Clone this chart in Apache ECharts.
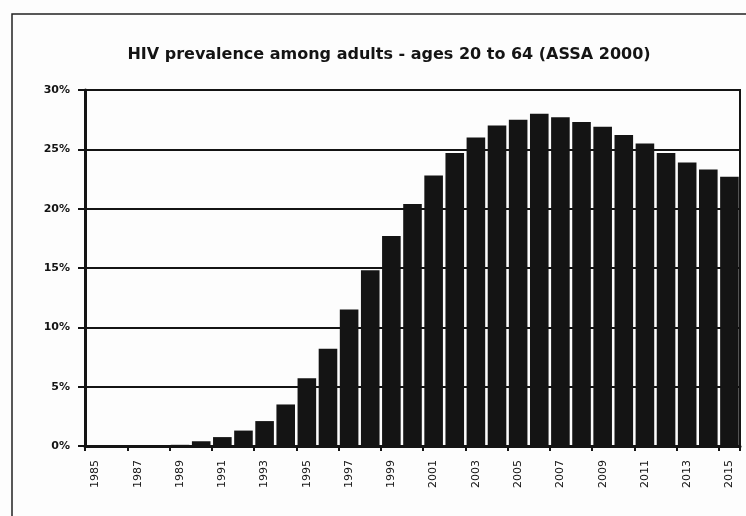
<!DOCTYPE html>
<html>
<head>
<meta charset="utf-8">
<script src="https://cdn.jsdelivr.net/npm/echarts@6/dist/echarts.min.js"></script>
<style>
  html, body { margin: 0; padding: 0; background: #fff; }
  #chart { width: 746px; height: 516px; }
</style>
</head>
<body>
<div id="chart"></div>
<script>
// Adult HIV prevalence (ages 20-64), ASSA 2000 model projections
const years = [
  '1985','1986','1987','1988','1989','1990','1991','1992','1993','1994',
  '1995','1996','1997','1998','1999','2000','2001','2002','2003','2004',
  '2005','2006','2007','2008','2009','2010','2011','2012','2013','2014','2015'
];
const prevalence = [
  0.0, 0.0, 0.0, 0.02, 0.1, 0.4, 0.75, 1.3, 2.1, 3.5,
  5.7, 8.2, 11.5, 14.8, 17.7, 20.4, 22.8, 24.7, 26.0, 27.0,
  27.5, 28.0, 27.7, 27.3, 26.9, 26.2, 25.5, 24.7, 23.9, 23.3, 22.7
];
const yTicks = [0, 5, 10, 15, 20, 25, 30];

const chart = echarts.init(document.getElementById('chart'));
const ink = '#141414';
const font = '"DejaVu Sans", "Liberation Sans", sans-serif';

chart.setOption({
  animation: false,
  backgroundColor: '#fdfdfd',
  title: {
    text: 'HIV prevalence among adults - ages 20 to 64 (ASSA 2000)',
    left: 384,
    top: 42,
    textAlign: 'center',
    textStyle: { fontFamily: font, fontSize: 16, fontWeight: 'bold', color: ink }
  },
  graphic: [{
    type: 'rect',
    shape: { x: 12, y: 14, width: 760, height: 530 },
    style: { fill: 'none', stroke: '#222', lineWidth: 1.5 },
    silent: true
  }],
  grid: {
    left: 85, right: 6, top: 90, bottom: 70,
    show: true, borderColor: ink, borderWidth: 2, backgroundColor: 'transparent'
  },
  xAxis: {
    type: 'category',
    data: years,
    boundaryGap: true,
    axisLine: { lineStyle: { color: ink, width: 3 } },
    axisTick: { show: true, alignWithLabel: false, length: 5, lineStyle: { color: ink, width: 2 } },
    axisLabel: {
      interval: 1,
      rotate: 90,
      margin: 14,
      fontFamily: font,
      fontSize: 11,
      color: ink
    }
  },
  yAxis: {
    type: 'value',
    min: yTicks[0],
    max: yTicks[yTicks.length - 1],
    interval: 5,
    axisLine: { show: true, lineStyle: { color: ink, width: 3 } },
    axisTick: { show: true, length: 7, lineStyle: { color: ink, width: 2 } },
    axisLabel: {
      formatter: v => v + '%',
      margin: 15,
      fontFamily: font,
      fontSize: 11,
      fontWeight: 'bold',
      color: ink
    },
    splitLine: { lineStyle: { color: ink, width: 2 } }
  },
  series: [{
    type: 'bar',
    data: prevalence,
    barCategoryGap: '12%',
    itemStyle: { color: ink },
    z: 3
  }]
});
</script>
</body>
</html>
